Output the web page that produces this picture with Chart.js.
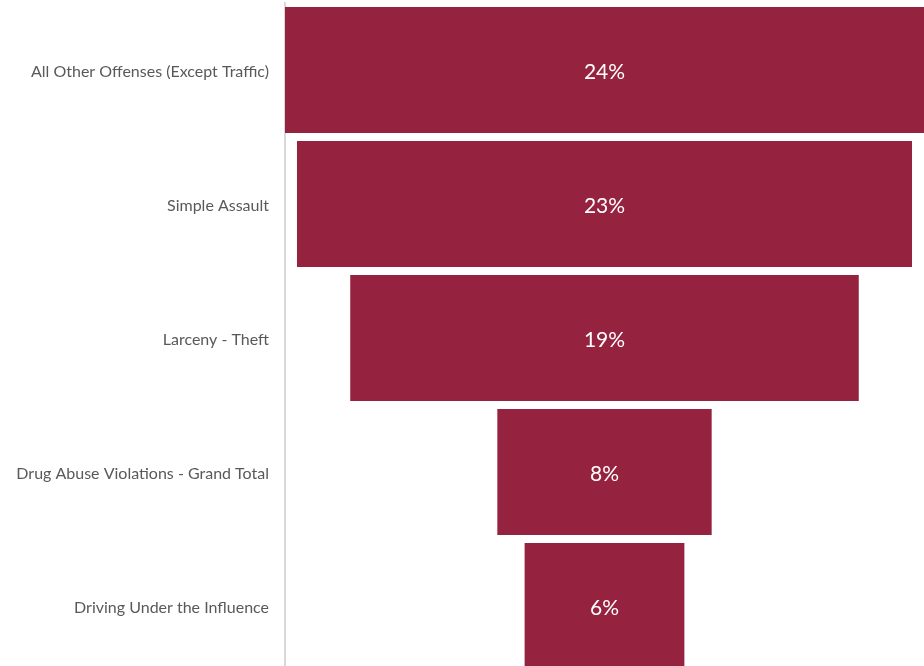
<!DOCTYPE html>
<html>
<head>
<meta charset="utf-8">
<script src="https://cdn.jsdelivr.net/npm/chart.js@4"></script>
<style>
  html, body { margin: 0; padding: 0; background: #fff; overflow: hidden; }
  #wrap { width: 924px; height: 666px; overflow: hidden; }
</style>
</head>
<body>
<div id="wrap"><canvas id="funnel" width="924" height="676"></canvas></div>
<script>
"use strict";

const categories = [
	"All Other Offenses (Except Traffic)",
	"Simple Assault",
	"Larceny - Theft",
	"Drug Abuse Violations - Grand Total",
	"Driving Under the Influence"
]
const shares = [24.0, 23.1, 19.1, 8.05, 6.0]

const maxShare = Math.max(...shares)

// centred floating bars make the funnel
const spans = shares.map(v => [-v / 2, v / 2])

const barLabels = {
	id: 'barLabels',
	afterDatasetsDraw(chart) {
		const ctx = chart.ctx
		const meta = chart.getDatasetMeta(0)
		ctx.save()
		ctx.fillStyle = '#ffffff'
		ctx.font = '21px Lato, sans-serif'
		ctx.textAlign = 'center'
		ctx.textBaseline = 'middle'
		meta.data.forEach((bar, i) => {
			const x = chart.scales.x.getPixelForValue(0)
			ctx.fillText(Math.round(shares[i]) + '%', x, bar.y + 2)
		})
		ctx.restore()
	}
}

new Chart(document.getElementById('funnel').getContext('2d'), {
	type: 'bar',
	data: {
		labels: categories,
		datasets: [{
			data: spans,
			backgroundColor: '#95223e',
			borderWidth: 0,
			barPercentage: 0.94,
			categoryPercentage: 1
		}]
	},
	options: {
		indexAxis: 'y',
		responsive: false,
		animation: false,
		layout: { padding: { top: 3, bottom: 3, left: 0, right: 0 } },
		plugins: {
			legend: { display: false },
			tooltip: { enabled: false }
		},
		scales: {
			x: {
				display: false,
				min: -maxShare / 2,
				max: maxShare / 2
			},
			y: {
				grid: { display: false, drawTicks: false },
				border: { display: true, color: '#d9d9d9', width: 2 },
				ticks: {
					color: '#595959',
					font: { family: 'Lato, sans-serif', size: 16 },
					padding: 16,
					labelOffset: 2
				},
				afterFit(scale) {
					scale.width = 285
					scale.paddingTop = 0
					scale.paddingBottom = 0
				}
			}
		}
	},
	plugins: [barLabels]
})
</script>
</body>
</html>
